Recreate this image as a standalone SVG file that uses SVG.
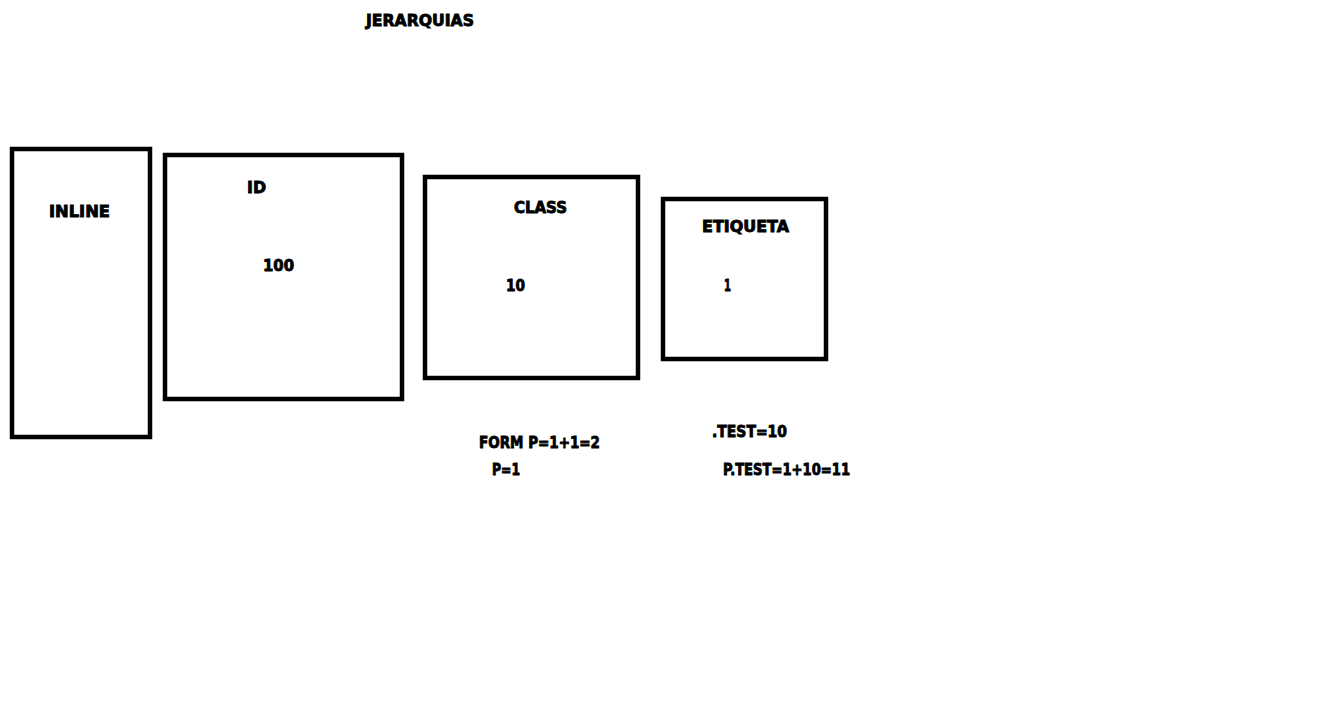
<svg xmlns="http://www.w3.org/2000/svg" width="1339" height="714" viewBox="0 0 1339 714">
<style>
.box{fill:none;stroke:#000;stroke-width:4.5}
.t{font-family:"DejaVu Sans","Liberation Sans",sans-serif;font-weight:bold;font-size:15px;fill:#000;stroke:#000;stroke-width:0.8}
</style>
<rect width="1339" height="714" fill="#fff"/>
<text class="t" x="366" y="26" textLength="108" lengthAdjust="spacingAndGlyphs">JERARQUIAS</text>
<g id="inline">
<rect class="box" x="12" y="149" width="138" height="288"/>
<text class="t" x="49" y="217" textLength="61" lengthAdjust="spacingAndGlyphs">INLINE</text>
</g>
<g id="id">
<rect class="box" x="165" y="155" width="237" height="244"/>
<text class="t" x="247" y="193" textLength="19" lengthAdjust="spacingAndGlyphs">ID</text>
<text class="t" x="263" y="271" textLength="31" lengthAdjust="spacingAndGlyphs">100</text>
</g>
<g id="class">
<rect class="box" x="425" y="177" width="213" height="201"/>
<text class="t" x="514" y="213" textLength="53" lengthAdjust="spacingAndGlyphs">CLASS</text>
<text class="t" x="506" y="291" textLength="19" lengthAdjust="spacingAndGlyphs">10</text>
</g>
<g id="etiqueta">
<rect class="box" x="663" y="199" width="163" height="160"/>
<text class="t" x="702" y="232" textLength="87" lengthAdjust="spacingAndGlyphs">ETIQUETA</text>
<text class="t" x="724" y="291" textLength="7" lengthAdjust="spacingAndGlyphs">1</text>
</g>
<g id="notes">
<text class="t" x="479" y="448" textLength="121" lengthAdjust="spacingAndGlyphs">FORM P=1+1=2</text>
<text class="t" x="492" y="475" textLength="28" lengthAdjust="spacingAndGlyphs">P=1</text>
<text class="t" x="712" y="437" textLength="75" lengthAdjust="spacingAndGlyphs">.TEST=10</text>
<text class="t" x="723" y="475" textLength="127" lengthAdjust="spacingAndGlyphs">P.TEST=1+10=11</text>
</g>
<g id="connectors"/>
</svg>
